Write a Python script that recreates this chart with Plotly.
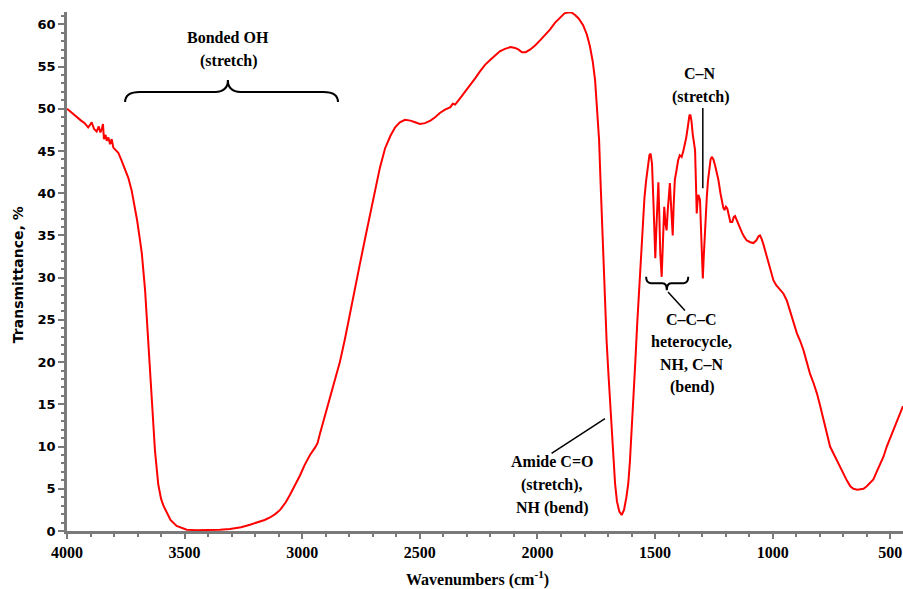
import plotly.graph_objects as go

# ---- data ----
wavenumber = [
    4000, 3980, 3960, 3940, 3925, 3910, 3902, 3895, 3885, 3874, 3865, 3858, 3852, 3847, 3843,
    3836, 3831, 3824, 3817, 3810, 3803, 3796, 3782, 3770, 3761, 3750, 3739, 3725, 3711, 3702,
    3690, 3682, 3668, 3660, 3654, 3646, 3639, 3626, 3612, 3600, 3590, 3576, 3560, 3534, 3510,
    3491, 3450, 3400, 3350, 3307, 3260, 3222, 3193, 3160, 3137, 3115, 3094, 3070, 3052, 3030,
    3009, 2990, 2967, 2945, 2935, 2925, 2915, 2903, 2880, 2861, 2840, 2818, 2800, 2776, 2755,
    2733, 2710, 2690, 2670, 2648, 2625, 2605, 2585, 2563, 2540, 2520, 2500, 2478, 2455, 2435,
    2415, 2393, 2370, 2360, 2350, 2330, 2308, 2285, 2265, 2245, 2223, 2200, 2180, 2160, 2138,
    2115, 2095, 2080, 2066, 2050, 2032, 2010, 1989, 1965, 1946, 1925, 1904, 1885, 1870, 1855,
    1840, 1825, 1806, 1790, 1777, 1765, 1755, 1745, 1738, 1732, 1726, 1720, 1713, 1706, 1698,
    1691, 1684, 1677, 1670, 1662, 1652, 1642, 1632, 1622, 1614, 1607, 1600, 1592, 1585, 1576,
    1568, 1560, 1551, 1545, 1538, 1530, 1524, 1519, 1513, 1507, 1502, 1499, 1495, 1490, 1486,
    1482, 1478, 1472, 1468, 1464, 1461, 1456, 1451, 1446, 1441, 1437, 1432, 1428, 1425, 1421,
    1416, 1410, 1402, 1395, 1387, 1380, 1375, 1368, 1360, 1354, 1350, 1345, 1340, 1334, 1330,
    1326, 1323, 1320, 1316, 1312, 1309, 1305, 1301, 1297, 1293, 1288, 1283, 1280, 1275, 1270,
    1264, 1259, 1252, 1245, 1238, 1231, 1222, 1215, 1210, 1205, 1199, 1193, 1188, 1180, 1172,
    1165, 1160, 1153, 1146, 1139, 1130, 1120, 1110, 1095, 1082, 1070, 1060, 1054, 1047, 1040,
    1033, 1025, 1015, 1005, 997, 985, 970, 954, 940, 926, 912, 897, 883, 869, 855,
    841, 826, 812, 798, 784, 770, 756, 742, 728, 714, 700, 685, 670, 657, 640,
    625, 614, 600, 586, 572, 558, 543, 529, 515, 500, 487, 470, 446,
]
transmittance = [
    50.0, 49.5, 49.0, 48.6, 48.3, 47.8, 48.1, 48.4, 47.6, 47.3, 47.9, 47.2, 47.6, 48.2, 46.4,
    46.9, 46.2, 46.6, 45.8, 46.4, 45.4, 45.2, 44.8, 44.0, 43.4, 42.7, 41.8, 40.3, 38.3, 36.8,
    34.5, 32.9, 28.5, 25.0, 21.4, 18.0, 15.0, 9.5, 5.5, 3.8, 3.0, 2.2, 1.3, 0.6, 0.3,
    0.15, 0.1, 0.1, 0.15, 0.25, 0.45, 0.75, 1.0, 1.3, 1.6, 2.0, 2.5, 3.4, 4.3, 5.4,
    6.6, 7.8, 9.0, 9.9, 10.4, 11.5, 12.5, 13.5, 15.8, 17.6, 20.0, 22.8, 25.2, 28.6, 31.6,
    34.6, 37.6, 40.3, 43.0, 45.3, 46.8, 47.8, 48.4, 48.7, 48.6, 48.4, 48.2, 48.3, 48.6, 49.0,
    49.5, 49.9, 50.2, 50.6, 50.5, 51.2, 52.0, 52.8, 53.6, 54.4, 55.2, 55.8, 56.3, 56.8, 57.1,
    57.3, 57.2, 57.0, 56.7, 56.7, 57.0, 57.5, 58.1, 58.8, 59.4, 60.2, 60.8, 61.3, 61.4, 61.4,
    61.1, 60.7, 59.9, 58.8, 57.4, 55.6, 53.4, 49.5, 46.3, 41.5, 36.8, 33.0, 27.5, 22.5, 18.5,
    15.5, 11.5, 8.3, 5.6, 3.5, 2.3, 1.9, 2.5, 4.0, 5.6, 8.2, 11.5, 15.5, 19.5, 24.5,
    28.5, 33.0, 36.8, 39.5, 41.5, 43.5, 44.5, 44.7, 43.5, 39.0, 33.5, 32.3, 35.5, 39.5, 41.3,
    37.5, 33.0, 30.1, 33.5, 37.0, 38.4, 36.5, 35.6, 38.0, 40.5, 41.2, 38.5, 35.8, 35.0, 38.5,
    41.6, 42.5, 43.9, 44.5, 44.3, 45.0, 45.6, 46.5, 48.0, 49.2, 49.3, 48.5, 47.0, 46.0, 45.1,
    41.0, 37.6, 38.8, 39.8, 39.5, 39.2, 36.0, 32.0, 29.9, 32.5, 36.0, 38.5, 39.6, 41.5, 43.0,
    44.0, 44.3, 44.0, 43.3, 42.4, 41.6, 40.0, 38.8, 38.3, 38.0, 38.4, 38.2, 37.5, 36.6, 36.6,
    37.2, 37.3, 36.8, 36.3, 36.0, 35.3, 34.8, 34.4, 34.2, 34.1, 34.4, 34.9, 35.0, 34.6, 34.0,
    33.3, 32.4, 31.2, 30.2, 29.7, 29.1, 28.6, 28.1, 27.3, 26.1, 24.9, 23.4, 22.5, 21.4, 20.0,
    18.6, 17.5, 16.3, 14.8, 13.1, 11.5, 10.0, 9.2, 8.4, 7.6, 6.8, 6.0, 5.3, 5.0, 4.9,
    5.0, 5.0, 5.3, 5.7, 6.1, 7.0, 7.9, 8.8, 10.0, 11.0, 11.9, 13.2, 14.8,
]

x_ticks = [4000, 3500, 3000, 2500, 2000, 1500, 1000, 500]
x_tick_labels = ["4000", "3500", "3000", "2500", "2000", "1500", "1000", "500"]
y_ticks = [0, 5, 10, 15, 20, 25, 30, 35, 40, 45, 50, 55, 60]
y_tick_labels = [str(v) for v in y_ticks]

SERIF = "Liberation Serif"
SANS = "DejaVu Sans"

fig = go.Figure()
fig.add_trace(go.Scatter(
    x=wavenumber, y=transmittance, mode="lines",
    line=dict(color="#ff0000", width=2), hoverinfo="skip", showlegend=False,
))

axis_col = "#7a7a7a"
fig.update_layout(
    width=903, height=589,
    margin=dict(l=67, r=0, t=12, b=58),
    paper_bgcolor="white", plot_bgcolor="white",
    showlegend=False,
    xaxis=dict(
        range=[4000, 446], tickvals=x_ticks, ticktext=x_tick_labels,
        showgrid=False, zeroline=False, showline=True, linecolor=axis_col, linewidth=2.5,
        ticks="outside", ticklen=5, tickwidth=2, tickcolor=axis_col,
        tickfont=dict(family=SERIF, size=16, color="black", weight="bold"),
        minor=dict(dtick=100, tick0=0, ticks="outside", ticklen=3, tickwidth=2, tickcolor=axis_col),
    ),
    yaxis=dict(
        range=[0, 61.46], tickvals=y_ticks, ticktext=y_tick_labels,
        showgrid=False, zeroline=False, showline=True, linecolor=axis_col, linewidth=2.5,
        ticks="outside", ticklen=6, tickwidth=2, tickcolor=axis_col,
        tickfont=dict(family=SANS, size=13, color="black", weight="bold"),
        minor=dict(dtick=1, tick0=0, ticks="outside", ticklen=3, tickwidth=2, tickcolor=axis_col),
    ),
)

# Axis titles
fig.add_annotation(
    xref="paper", yref="paper", x=0.4916, y=-0.091, showarrow=False,
    text="Wavenumbers (cm<sup>-1</sup>)", xanchor="center", yanchor="middle",
    font=dict(family=SERIF, size=16, color="black", weight="bold"),
)
fig.add_annotation(
    xref="paper", yref="paper", x=-0.0586, y=0.493, showarrow=False, textangle=-90,
    text="Transmittance, %", xanchor="center", yanchor="middle",
    font=dict(family=SANS, size=14, color="black", weight="bold"),
)

# Labels
labels = [
    ("Bonded OH", 3314, 58.4),
    ("(stretch)", 3314, 55.7),
    ("C\u2013N", 1309, 54.2),
    ("(stretch)", 1305, 51.4),
    ("C\u2013C\u2013C", 1345, 25.1),
    ("heterocycle,", 1345, 22.4),
    ("NH, C\u2013N", 1345, 19.7),
    ("(bend)", 1345, 17.1),
    ("Amide C=O", 1940, 8.2),
    ("(stretch),", 1940, 5.4),
    ("NH (bend)", 1940, 2.7),
]
for txt, xv, yv in labels:
    fig.add_annotation(
        x=xv, y=yv, xref="x", yref="y", text=txt, showarrow=False,
        xanchor="center", yanchor="middle",
        font=dict(family=SERIF, size=16, color="black", weight="bold"),
    )

# Braces and pointer lines
fig.add_shape(
    type="path", xref="x", yref="y",
    path=("M 3753,50.8 Q 3753,52.0 3690,52.0 L 3370,52.0 Q 3316,52.0 3316,53.4 "
          "Q 3316,52.0 3262,52.0 L 2910,52.0 Q 2848,52.0 2848,50.8"),
    line=dict(color="black", width=2),
)
fig.add_shape(
    type="path", xref="x", yref="y",
    path=("M 1538,30.1 Q 1538,29.35 1518,29.35 L 1468,29.35 Q 1450,29.35 1450,28.5 "
          "Q 1450,29.35 1432,29.35 L 1379,29.35 Q 1359,29.35 1359,30.1"),
    line=dict(color="black", width=2),
)
fig.add_shape(type="line", xref="x", yref="y", x0=1713, y0=13.3, x1=1940, y1=9.2,
              line=dict(color="black", width=1.5))
fig.add_shape(type="line", xref="x", yref="y", x0=1297, y0=50.1, x1=1297, y1=40.6,
              line=dict(color="black", width=1.5))
fig.add_shape(type="line", xref="x", yref="y", x0=1445, y0=28.3, x1=1373, y1=26.1,
              line=dict(color="black", width=1.5))

fig.write_html("out.html")
